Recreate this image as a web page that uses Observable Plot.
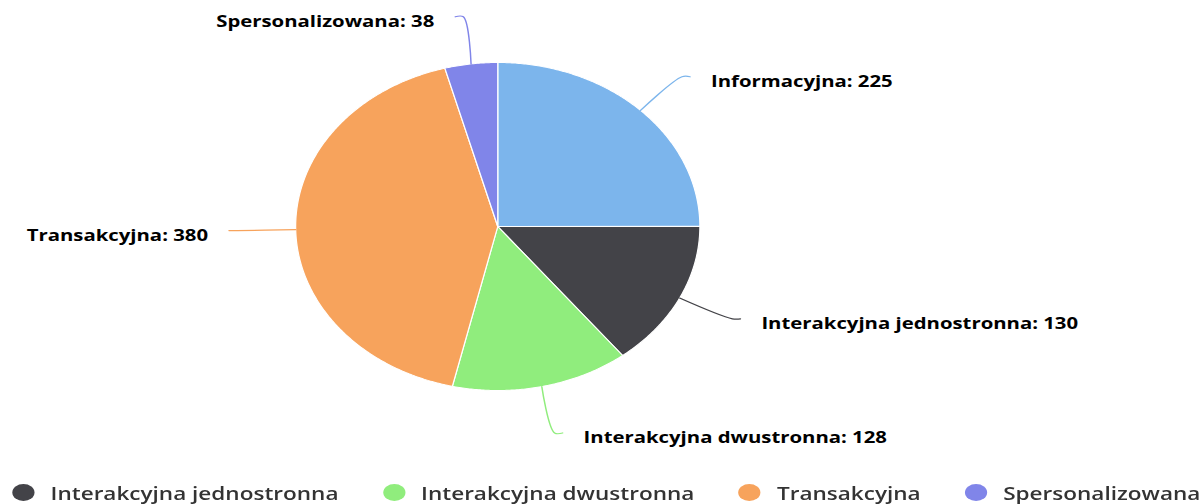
<!DOCTYPE html>
<html>
<head>
<meta charset="utf-8">
<script src="https://cdn.jsdelivr.net/npm/d3@7"></script>
<script src="https://cdn.jsdelivr.net/npm/@observablehq/plot@0.6"></script>
<style>
  html, body { margin: 0; padding: 0; background: #fff; overflow: hidden; }
  #wrap { width: 977px; transform: scaleX(1.2324); transform-origin: 0 0; }
  .legend { display: flex; justify-content: center; align-items: center; height: 35px; padding-left: 7px;
            font-family: "Open Sans", sans-serif; font-size: 18.3px; font-weight: 600; color: #333; }
  .legend .item { display: flex; align-items: center; margin: 0 18px; white-space: nowrap; }
  .legend .sw { width: 18px; height: 17px; border-radius: 50%; margin-right: 13px; }
</style>
</head>
<body>
<div id="wrap"></div>
<script>
// ---- data ----
const categories = ["Informacyjna", "Interakcyjna jednostronna", "Interakcyjna dwustronna", "Transakcyjna", "Spersonalizowana"];
const values = [225, 130, 128, 380, 38];
const colors = ["#7cb5ec", "#434348", "#90ed7d", "#f7a35c", "#8085e9"];
const legendCategories = ["Interakcyjna jednostronna", "Interakcyjna dwustronna", "Transakcyjna", "Spersonalizowana"];

// ---- geometry derived from data (unit circle space) ----
const rows = categories.map((name, i) => ({name, value: values[i]}));
const arcs = d3.pie().sort(null).value(d => d.value)(rows);

const slicePts = [];
const connPts = [];
const labels = [];
for (const a of arcs) {
  const name = a.data.name;
  slicePts.push({name, x: 0, y: 0});
  const n = Math.max(4, Math.ceil((a.endAngle - a.startAngle) / (Math.PI / 360)));
  for (let k = 0; k <= n; k++) {
    const t = a.startAngle + (a.endAngle - a.startAngle) * k / n;
    slicePts.push({name, x: Math.sin(t), y: Math.cos(t)});
  }
  const m = (a.startAngle + a.endAngle) / 2;
  const side = Math.sin(m) >= 0 ? 1 : -1;
  const rb = 1.29;
  const bx = rb * Math.sin(m), by = rb * Math.cos(m);
  const tx = bx + side * 0.04, ty = by;
  connPts.push({name, x: Math.sin(m), y: Math.cos(m)});
  connPts.push({name, x: bx, y: by});
  connPts.push({name, x: tx, y: ty});
  labels.push({name, side, x: tx, y: ty, text: `${name}: ${a.data.value}`});
}

const labelStyle = {fontWeight: "bold", fontSize: 16.5, fill: "#000", stroke: "white", strokeWidth: 1.5, dy: 5};

const chart = Plot.plot({
  width: 977,
  height: 475,
  margin: 0,
  style: {fontFamily: "'Open Sans', sans-serif", background: "white"},
  x: {domain: [-1, 1], range: [239.4, 567.4], axis: null},
  y: {domain: [-1, 1], range: [390, 62], axis: null},
  color: {domain: categories, range: colors},
  marks: [
    Plot.line(slicePts, {x: "x", y: "y", z: "name", fill: "name", stroke: "white", strokeWidth: 1, strokeLinejoin: "round", curve: "linear-closed"}),
    Plot.line(connPts, {x: "x", y: "y", z: "name", stroke: "name", strokeWidth: 1.2, curve: "catmull-rom"}),
    Plot.text(labels.filter(d => d.side > 0), {x: "x", y: "y", text: "text", textAnchor: "start", dx: 17, ...labelStyle}),
    Plot.text(labels.filter(d => d.side < 0), {x: "x", y: "y", text: "text", textAnchor: "end", dx: -17, ...labelStyle})
  ]
});

const wrap = document.getElementById("wrap");
wrap.appendChild(chart);

const legend = document.createElement("div");
legend.className = "legend";
for (const name of legendCategories) {
  const item = document.createElement("div");
  item.className = "item";
  const sw = document.createElement("span");
  sw.className = "sw";
  sw.style.background = colors[categories.indexOf(name)];
  const lab = document.createElement("span");
  lab.textContent = name;
  item.appendChild(sw);
  item.appendChild(lab);
  legend.appendChild(item);
}
wrap.appendChild(legend);
</script>
</body>
</html>
